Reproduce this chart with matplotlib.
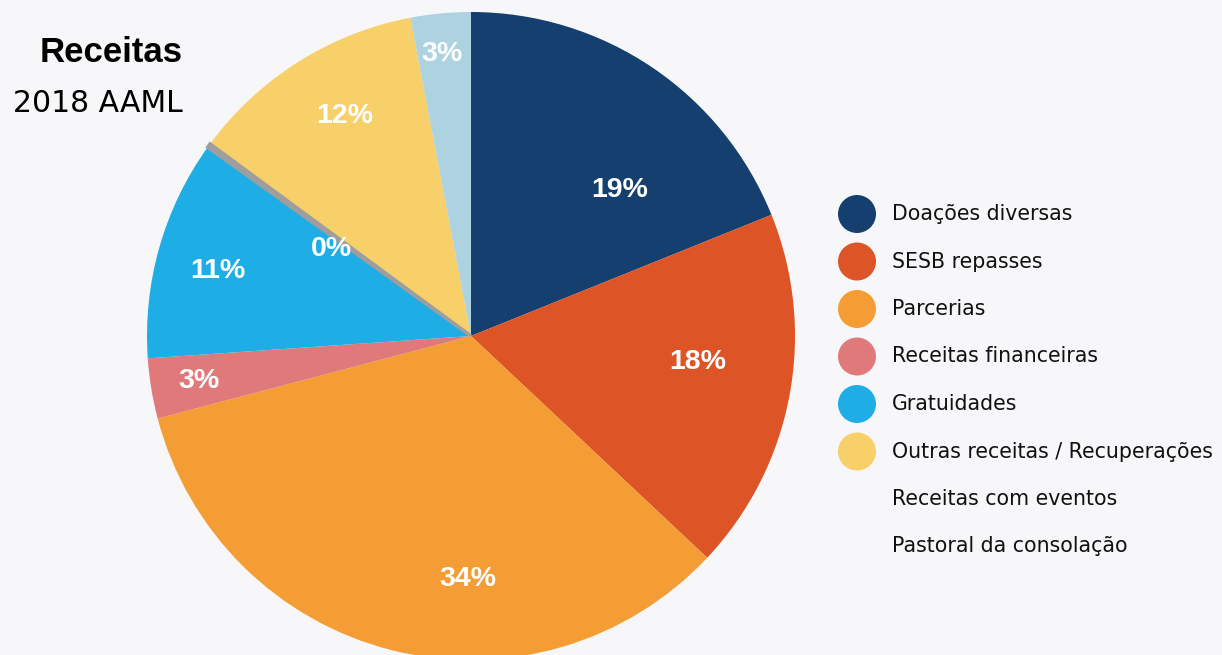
import matplotlib
matplotlib.use("Agg")
import matplotlib.pyplot as plt
import numpy as np

categories = ["Doações diversas", "SESB repasses", "Parcerias", "Receitas financeiras",
              "Gratuidades", "Receitas com eventos", "Outras receitas / Recuperações",
              "Pastoral da consolação"]
values = [18.9, 18.1, 33.9, 3.0, 11.0, 0.2, 11.9, 3.0]
pct_labels = ["19%", "18%", "34%", "3%", "11%", "0%", "12%", "3%"]
legend_order = ["Doações diversas", "SESB repasses", "Parcerias", "Receitas financeiras",
                "Gratuidades", "Outras receitas / Recuperações", "Receitas com eventos",
                "Pastoral da consolação"]
legend_marker_shown = [True, True, True, True, True, True, False, False]

colors = ["#153f6e", "#dd5427", "#f59d35", "#e07a7a", "#1fade5", "#9e9e9e", "#f7d06a", "#add3e0"]
# label positions in pie coordinates (radius 1)
label_xy = [(0.46, 0.45), (0.70, -0.08), (-0.01, -0.75), (-0.84, -0.14),
            (-0.78, 0.20), (-0.43, 0.27), (-0.39, 0.68), (-0.09, 0.87)]

bg = "#f7f7f9"
W, H = 1222, 655
fig = plt.figure(figsize=(W / 100, H / 100), dpi=100, facecolor=bg)

cx, cy, r = 471, 336, 324
ax = fig.add_axes([(cx - r) / W, (H - cy - r) / H, 2 * r / W, 2 * r / H])
ax.set_facecolor("none")
wedges, _ = ax.pie(values, colors=colors, startangle=90, counterclock=False,
                   radius=1, wedgeprops=dict(linewidth=0))
# the tiny grey slice shows as a thin band
wedges[5].set_edgecolor(colors[5])
wedges[5].set_linewidth(2.5)
wedges[5].set_zorder(wedges[5].get_zorder() + 1)
ax.set_xlim(-1, 1)
ax.set_ylim(-1, 1)
ax.set_aspect("equal")
ax.axis("off")
for lab, (x, y) in zip(pct_labels, label_xy):
    ax.text(x, y, lab, ha="center", va="center", color="white", fontsize=20.5,
            fontweight="bold", family="Liberation Sans", zorder=10)

# title
fig.text(183 / W, 1 - 52 / H, "Receitas", ha="right", va="center", fontsize=25,
         fontweight="bold", family="Liberation Sans", color="black")
fig.text(183 / W, 1 - 103 / H, "2018 AAML", ha="right", va="center", fontsize=21.5,
         family="DejaVu Sans", color="black")

# legend
lax = fig.add_axes([0, 0, 1, 1])
lax.set_xlim(0, W)
lax.set_ylim(H, 0)
lax.axis("off")
lax.set_facecolor("none")
cat_color = dict(zip(categories, colors))
row_y0, row_dy = 214, 47.5
for i, name in enumerate(legend_order):
    y = row_y0 + i * row_dy
    if legend_marker_shown[i]:
        lax.scatter([857], [y], s=(38 * 0.72) ** 2, color=cat_color[name], edgecolors="none")
    lax.text(892, y, name, ha="left", va="center", fontsize=14.8, family="DejaVu Sans", color="#111111")

fig.savefig("out.png", dpi=100, facecolor=bg)
